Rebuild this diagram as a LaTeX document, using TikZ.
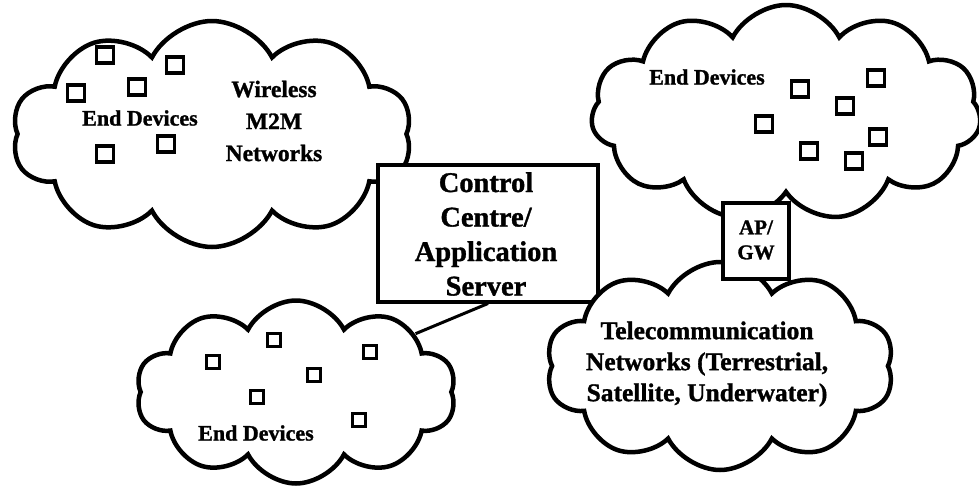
\documentclass[tikz,border=0pt]{standalone}
\usepackage{fontspec}
\setmainfont{Liberation Serif}[BoldFeatures={FakeBold=1.2}]
\usetikzlibrary{shapes.symbols}
\begin{document}
\begin{tikzpicture}[x=1pt,y=-1pt,
  cloudnet/.style={cloud, cloud puffs=10, cloud puff arc=125, cloud ignores aspect,
    draw=black, line width=4.5pt, fill=white, inner sep=0pt},
  dev/.style={draw=black, line width=3.5pt, minimum width=17pt, minimum height=16pt, inner sep=0pt},
  sdev/.style={draw=black, line width=3.5pt, minimum width=13pt, minimum height=13pt, inner sep=0pt},
  lbl/.style={align=center, font=\bfseries\fontsize{22}{30}\selectfont, inner sep=0pt},
  boxnode/.style={draw=black, line width=4pt, fill=white, inner sep=0pt}
]
\useasboundingbox (0,0) rectangle (979,485);
% clouds drawn behind the control box
\node[cloudnet, minimum width=400pt, minimum height=226pt] (tl) at (212,134) {};
\node[cloudnet, minimum width=390pt, minimum height=216pt, cloud puffs=11] (tr) at (786,113) {};
\node[cloudnet, minimum width=320pt, minimum height=183pt] (bl) at (296,392) {};

% top-left cloud content
\node[lbl] (tlend) at (140,118) {End Devices};
\node[lbl, font=\bfseries\fontsize{23.5}{32}\selectfont] (wm) at (274,121) {Wireless\\M2M\\Networks};
\node[dev] (d1) at (105,55) {};
\node[dev] (d2) at (175,65) {};
\node[dev] (d3) at (137,87) {};
\node[dev] (d4) at (76,93) {};
\node[dev] (d5) at (105,154) {};
\node[dev] (d6) at (166,144) {};

% top-right cloud content
\node[lbl] (trend) at (707,77) {End Devices};
\node[dev] (e1) at (876,78) {};
\node[dev] (e2) at (800,89) {};
\node[dev] (e3) at (845,106) {};
\node[dev] (e4) at (764,124) {};
\node[dev] (e5) at (878,137) {};
\node[dev] (e6) at (809,151) {};
\node[dev] (e7) at (854,161) {};

% bottom-left cloud content
\node[lbl] (blend) at (256,433) {End Devices};
\node[sdev] (f1) at (213,362) {};
\node[sdev] (f2) at (274,340) {};
\node[sdev] (f3) at (370,352) {};
\node[sdev] (f4) at (314,375) {};
\node[sdev] (f5) at (257,397) {};
\node[sdev] (f6) at (359,420) {};

% control centre box
\node[boxnode, minimum width=220pt, minimum height=137pt] (ctrl) at (488,233) {};
\node[lbl, font=\bfseries\fontsize{28.5}{34.5}\selectfont] (ctrltxt) at (486,234) {Control\\Centre/\\Application\\Server};
\draw[line width=3pt] (ctrl.south) -- (bl.26);

% telecom cloud (in front of the control box)
\node[cloudnet, minimum width=348pt, minimum height=208pt] (tel) at (720,366) {};
\node[lbl, font=\bfseries\fontsize{25.5}{31}\selectfont] (teltxt) at (707,364) {Telecommunication\\Networks (Terrestrial,\\Satellite, Underwater)};

% AP/GW box
\node[boxnode, minimum width=66pt, minimum height=76pt] (ap) at (756,241) {};
\node[lbl, font=\bfseries\fontsize{21}{25}\selectfont] (aptxt) at (756,240) {AP/\\GW};
\end{tikzpicture}
\end{document}
